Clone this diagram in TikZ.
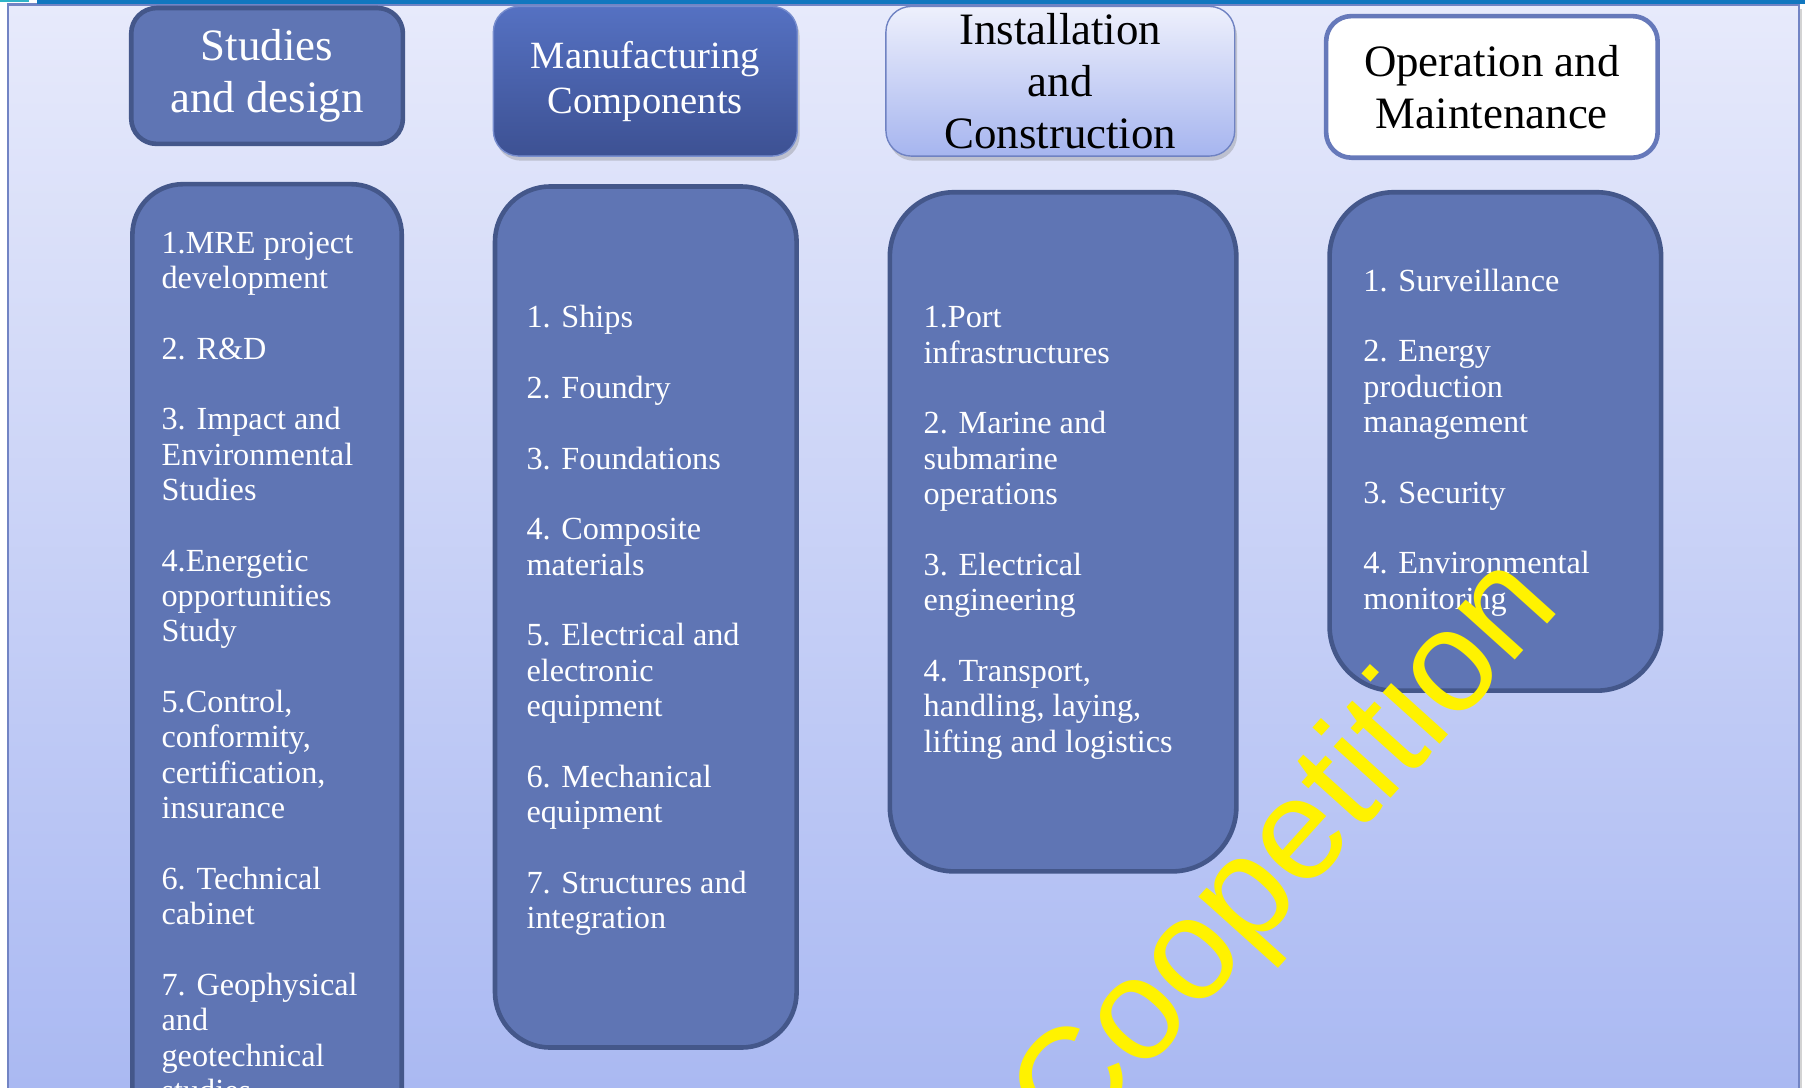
\documentclass[tikz,border=0pt]{standalone}
\usepackage{fontspec}
\setmainfont{Liberation Serif}
\newfontfamily\wordfont{Liberation Sans}
\usetikzlibrary{positioning,shadows}

\definecolor{bgtop}{HTML}{E7EAFB}
\definecolor{bgbot}{HTML}{AAB9F2}
\definecolor{boxfill}{HTML}{5F75B4}
\definecolor{boxline}{HTML}{44578A}
\definecolor{frameline}{HTML}{7284C4}
\definecolor{topbar}{HTML}{1177BF}
\definecolor{topcyan}{HTML}{2FB4C7}
\definecolor{mfgtop}{HTML}{5571C2}
\definecolor{mfgbot}{HTML}{3D5193}
\definecolor{insttop}{HTML}{EEF0FC}
\definecolor{instbot}{HTML}{A6B5EF}
\definecolor{instline}{HTML}{6F82C2}
\definecolor{opline}{HTML}{6679BA}

\begin{document}
\begin{tikzpicture}[
  x=0.5pt, y=-0.5pt,
  head/.style={rounded corners=11pt, align=center, inner sep=0pt,
               anchor=north west, font=\fontsize{19.5}{22.5}\selectfont},
  body/.style={draw=boxline, fill=boxfill, line width=2pt,
               anchor=north west, inner sep=0pt},
  items/.style={text=white, align=left, anchor=north west, inner sep=0pt,
                font=\fontsize{14}{15.35}\selectfont},
  shade/.style={drop shadow={shadow xshift=1pt, shadow yshift=-2pt, opacity=0.35}}
]
\clip (0,0) rectangle (1568,945);

% page background
\shade[top color=bgtop, bottom color=bgbot] (7,4) rectangle (1563,945);
\draw[frameline, line width=1pt] (7,945) -- (7,4) -- (1563,4) -- (1563,945);
\fill[topbar] (32,0) rectangle (1568,3.5);
\fill[topcyan] (0,0) rectangle (25,2);

% column headings
\node[head, draw=boxline, fill=boxfill, line width=2pt, text=white,
      minimum width=118pt, minimum height=59pt] (studies) at (112,5)
      {Studies\\and design};
\node[head, shade, top color=mfgtop, bottom color=mfgbot, draw=mfgtop!80,
      line width=0.6pt, text=white, minimum width=132pt, minimum height=65pt,
      font=\fontsize{16.75}{19.5}\selectfont] (manuf) at (428,5)
      {Manufacturing\\Components};
\node[head, shade, top color=insttop, bottom color=instbot, draw=instline,
      line width=0.6pt, minimum width=151.5pt, minimum height=65pt] (install) at (769,5)
      {Installation\\and\\Construction};
\node[head, draw=opline, fill=white, line width=2pt,
      minimum width=144pt, minimum height=61.5pt] (operation) at (1150,12)
      {Operation and\\Maintenance};

% column bodies
\node[body, rounded corners=22pt, minimum width=117pt, minimum height=427pt] (body1) at (113,158) {};
\node[body, rounded corners=24pt, minimum width=131pt, minimum height=374pt] (body2) at (428,160) {};
\node[body, rounded corners=28pt, minimum width=150.5pt, minimum height=295pt] (body3) at (771,165) {};
\node[body, rounded corners=28pt, minimum width=144pt, minimum height=216.5pt] (body4) at (1153,165) {};

\node[items] (list1) at (140,201)
  {1.MRE project\\development\\[15.35pt]
   2. R\&D\\[15.35pt]
   3. Impact and\\Environmental\\Studies\\[15.35pt]
   4.Energetic\\opportunities\\Study\\[15.35pt]
   5.Control,\\conformity,\\certification,\\insurance\\[15.35pt]
   6. Technical\\cabinet\\[15.35pt]
   7. Geophysical\\and\\geotechnical\\studies};
\node[items] (list2) at (457,265)
  {1. Ships\\[15.35pt]
   2. Foundry\\[15.35pt]
   3. Foundations\\[15.35pt]
   4. Composite\\materials\\[15.35pt]
   5. Electrical and\\electronic\\equipment\\[15.35pt]
   6. Mechanical\\equipment\\[15.35pt]
   7. Structures and\\integration};
\node[items] (list3) at (802,266)
  {1.Port\\infrastructures\\[15.35pt]
   2. Marine and\\submarine\\operations\\[15.35pt]
   3. Electrical\\engineering\\[15.35pt]
   4. Transport,\\handling, laying,\\lifting and logistics};
\node[items] (list4) at (1184,233)
  {1. Surveillance\\[15.35pt]
   2. Energy\\production\\management\\[15.35pt]
   3. Security\\[15.35pt]
   4. Environmental\\monitoring};

% watermark word across the last columns
\node[text=yellow, rotate=48, inner sep=0pt,
      font=\wordfont\fontsize{63}{63}\selectfont] (coop) at (1120,743) {Coopetition};
\end{tikzpicture}
\end{document}
